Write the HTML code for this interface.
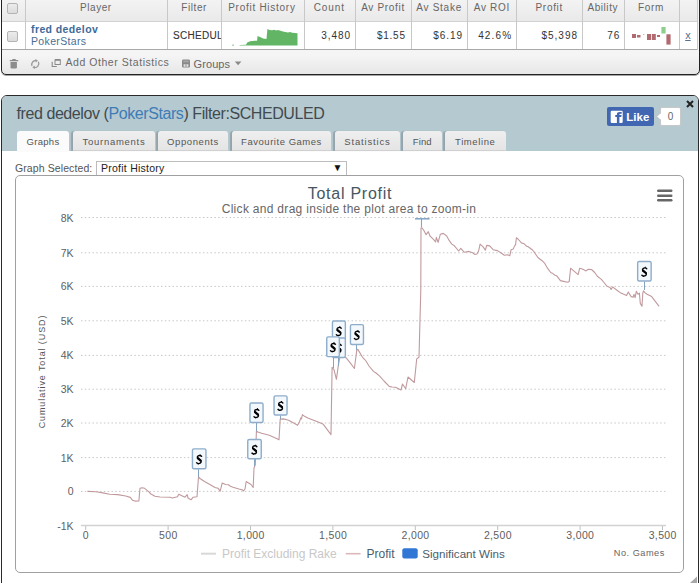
<!DOCTYPE html>
<html><head><meta charset="utf-8">
<style>
*{margin:0;padding:0;box-sizing:border-box}
html,body{width:700px;height:583px;overflow:hidden;background:#fff;font-family:"Liberation Sans",sans-serif}
.abs{position:absolute}
.ht{position:absolute;top:1.8px;font-size:10px;color:#666;letter-spacing:0.65px;white-space:nowrap}
.dt{position:absolute;font-size:10.5px;color:#333;letter-spacing:0.65px;white-space:nowrap}
.num{position:absolute;top:29.5px;font-size:10px;color:#333;letter-spacing:0.65px;white-space:nowrap;text-align:right;width:60px}
.cb{position:absolute;left:7px;width:11px;height:11px;border:1px solid #b4b4b4;border-radius:2px;background:linear-gradient(#ececec,#dcdcdc)}
.vd{position:absolute;top:0;width:1px;height:49px;background:#c8c8c8}
#panel{position:absolute;left:1px;top:95px;width:698px;height:600px;border:1px solid #2a2a2a;border-radius:6px 6px 0 0;background:#fff;overflow:hidden}
#phdr{position:absolute;left:0;top:0;width:100%;height:55px;background:#b5c9d0}
.title{position:absolute;left:14.5px;top:8.5px;font-size:16px;letter-spacing:-0.42px;color:#414a4f;white-space:nowrap}
.tab{position:absolute;top:35px;height:20px;background:linear-gradient(#efefef,#e4e4e4);border-radius:3px 3px 0 0;font-size:9.5px;color:#555;text-align:center;line-height:21px;letter-spacing:0.3px;box-shadow:-1.5px 0 1px rgba(0,0,0,0.18),inset 0 -1px 0 #d0d0d0}
.tab.on{background:#fbfbfb;height:21px;box-shadow:none}
</style></head><body>
<div class="abs" style="left:1px;top:-6px;width:699px;height:81px;border:1px solid #222;border-width:1px 1px 1px 1px;box-shadow:0 1px 0 rgba(0,0,0,0.35);border-radius:0 0 5px 5px;background:linear-gradient(#f5f5f5 60px,#e6e6e6 80px)"></div>
<div class="abs" style="left:2px;top:0;width:696px;height:21px;background:linear-gradient(#f3f3f3,#e9e9e9)"></div>
<div class="abs" style="left:2px;top:21px;width:696px;height:1px;background:#d2d2d2"></div>
<div class="abs" style="left:2px;top:22px;width:696px;height:27px;background:#fff"></div>
<div class="abs" style="left:2px;top:49px;width:696px;height:1px;background:#a8a8a8"></div>
<div class="abs" style="left:697px;top:0;width:1px;height:50px;background:#c8c8c8"></div>
<div class="vd" style="left:25px"></div>
<div class="vd" style="left:167px"></div>
<div class="vd" style="left:221px"></div>
<div class="vd" style="left:304px"></div>
<div class="vd" style="left:355px"></div>
<div class="vd" style="left:411px"></div>
<div class="vd" style="left:467px"></div>
<div class="vd" style="left:516px"></div>
<div class="vd" style="left:582px"></div>
<div class="vd" style="left:624px"></div>
<div class="vd" style="left:679px"></div>
<div class="cb" style="top:3px"></div>
<div class="cb" style="top:31px"></div>
<span class="ht" style="left:80px;letter-spacing:0.57px">Player</span>
<span class="ht" style="left:181.2px;letter-spacing:0.59px">Filter</span>
<span class="ht" style="left:228.2px;letter-spacing:0.73px">Profit History</span>
<span class="ht" style="left:313.7px;letter-spacing:0.91px">Count</span>
<span class="ht" style="left:361.2px;letter-spacing:0.68px">Av Profit</span>
<span class="ht" style="left:416.2px;letter-spacing:0.74px">Av Stake</span>
<span class="ht" style="left:473.7px;letter-spacing:0.7px">Av ROI</span>
<span class="ht" style="left:535.5px;letter-spacing:0.69px">Profit</span>
<span class="ht" style="left:587.5px;letter-spacing:0.55px">Ability</span>
<span class="ht" style="left:637.9px;letter-spacing:0.67px">Form</span>
<span class="dt" style="left:31px;top:23px;font-weight:bold;color:#3e6a98;letter-spacing:0.4px">fred dedelov</span>
<span class="dt" style="left:31px;top:35px;color:#4a6e94;letter-spacing:0.35px">PokerStars</span>
<div class="abs" style="left:168px;top:22px;width:53px;height:27px;overflow:hidden"><span class="dt" style="left:5px;top:8px;font-size:10px;color:#333;letter-spacing:0.3px;-webkit-text-stroke:0.1px #333">SCHEDULED</span></div>
<span class="num" style="left:290.9px;letter-spacing:0.9px">3,480</span>
<span class="num" style="left:345.7px;letter-spacing:0.74px">$1.55</span>
<span class="num" style="left:402.9px;letter-spacing:0.9px">$6.19</span>
<span class="num" style="left:452.4px;letter-spacing:1.18px">42.6%</span>
<span class="num" style="left:518px;letter-spacing:0.99px">$5,398</span>
<span class="num" style="left:560.2px;letter-spacing:0.94px">76</span>
<span class="abs" style="left:685.2px;top:28.8px;font-size:11px;line-height:12px;color:#55718f;text-decoration:underline;text-underline-offset:0.5px">x</span>
<svg class="abs" style="left:0;top:0" width="700" height="95">
  <polygon points="232,45.5 232,44.8 234,44.8 234,45.5 239.6,45.5 239.6,45 246,44.8 247.2,42.5 250.1,41.3 254.8,40.7 257.1,40.7 257.5,36 260.6,37.2 263,38.4 266.5,39 267.4,29 269.5,30 272,30.3 274.5,29.8 276,30.6 278,29.9 280.5,30.7 283,31.4 285.2,32 288,32.5 290,32.1 292.3,32.8 295,32.9 297.5,33.2 297.5,45.5" fill="#62b565"/>
  <rect x="632" y="34" width="4" height="4" fill="#b06a70"/>
  <rect x="637" y="35" width="3.5" height="2.5" fill="#b06a70"/>
  <rect x="643" y="34" width="1.5" height="1" fill="#d8b8b8"/>
  <rect x="647" y="34" width="4.2" height="6" fill="#b06a70"/>
  <rect x="652" y="34" width="3.8" height="6" fill="#b06a70"/>
  <rect x="657" y="35" width="3" height="2" fill="#b06a70"/>
  <rect x="661.4" y="27" width="4.2" height="6.5" fill="#8dd08d"/>
  <rect x="666.4" y="34.3" width="4.2" height="10.3" fill="#b06a70"/>
  <g fill="#8c8c8c">
    <rect x="9.7" y="60" width="8.6" height="1.3" rx="0.5"/>
    <rect x="12.3" y="59" width="3.4" height="1.3"/>
    <path d="M10.5 62 h6.4 v5.2 q0 1.4 -1.4 1.4 h-3.6 q-1.4 0 -1.4 -1.4z"/>
  </g>
  <g fill="none" stroke="#9a9a9a" stroke-width="1.3">
    <path d="M32 66 A4 4 0 0 1 36.5 60.6"/>
    <path d="M38.4 61.8 A4 4 0 0 1 33.8 67.4"/>
  </g>
  <path d="M35.5 59 L38 60.8 L35.6 62.6 Z M34.9 69 L32.3 67.3 L34.7 65.4 Z" fill="#9a9a9a"/>
  <g fill="none" stroke="#8a8a8a">
    <rect x="55" y="60" width="5.3" height="4.5" stroke-width="1"/>
    <path d="M55 59.8 h5.3" stroke-width="1.6"/>
    <path d="M52.2 61.8 v4.7 h4.6" stroke-width="1.1"/>
  </g>
  <rect x="182" y="59.5" width="8" height="8" rx="1.2" fill="#8a8a8a"/>
  <rect x="183.3" y="60.6" width="5.4" height="1.6" fill="#a8a8a8"/><rect x="183.6" y="64.2" width="2" height="2.6" fill="#ddd"/><rect x="186.4" y="64.2" width="2" height="2.6" fill="#ddd"/>
  <path d="M234.8 61.5 h6.6 l-3.3 3.8z" fill="#8a8a8a"/>
</svg>
<span class="abs" style="left:65.5px;top:56.3px;font-size:10.5px;color:#6a6a6a;white-space:nowrap;letter-spacing:0.55px">Add Other Statistics</span>
<span class="abs" style="left:193.5px;top:57.5px;font-size:11px;color:#666;white-space:nowrap;letter-spacing:0.1px">Groups</span>

<div id="panel">
  <div id="phdr"></div>
  <div class="title">fred dedelov (<span style="color:#3f7cb6">PokerStars</span>) Filter:SCHEDULED</div>
  <div class="tab on" style="left:15px;width:52px;letter-spacing:0.31px">Graphs</div>
  <div class="tab" style="left:71px;width:82px;letter-spacing:0.73px">Tournaments</div>
  <div class="tab" style="left:156px;width:70px;letter-spacing:0.59px">Opponents</div>
  <div class="tab" style="left:230px;width:99px;letter-spacing:0.53px">Favourite Games</div>
  <div class="tab" style="left:333px;width:65px;letter-spacing:0.83px">Statistics</div>
  <div class="tab" style="left:401px;width:38.5px;letter-spacing:0.15px">Find</div>
  <div class="tab" style="left:443px;width:60.5px;letter-spacing:0.59px">Timeline</div>
  <div class="abs" style="left:605px;top:11px;width:47px;height:19px;background:#4267b2;border-radius:2px"></div>
  <div class="abs" style="left:658px;top:11px;width:21px;height:19px;background:#fff;border:1px solid #c8c8c8;border-radius:2px;font-size:10px;color:#666;text-align:center;line-height:17px">0</div>
  <span class="abs" style="left:13px;top:66px;font-size:10.5px;color:#555;letter-spacing:0.1px">Graph Selected:</span>
  <div class="abs" style="left:93.5px;top:64.5px;width:251px;height:15px;border:1px solid #bcbcbc;background:#fff"></div>
  <span class="abs" style="left:99px;top:66px;font-size:10.5px;color:#222;letter-spacing:0.25px">Profit History</span>
  <span class="abs" style="left:330.5px;top:65.5px;font-size:10px;color:#111">&#9660;</span>
  <div class="abs" style="left:13px;top:79px;width:669px;height:398px;border:1px solid #a0a0a0;border-radius:5px;background:#fff"></div>
</div>
<svg class="abs" style="left:0;top:0" width="700" height="583" font-family="Liberation Sans">
  <!-- fb like -->
  <rect x="610.7" y="110.7" width="12" height="12.2" rx="1.2" fill="#fff"/>
  <path d="M616.9 122.9 V117 H615.3 V115.1 H616.9 V114.3 Q616.9 111.9 619.7 111.9 H621.7 V113.7 H620.3 Q619.4 113.7 619.4 114.5 V115.1 H621.6 L621.3 117 H619.4 V122.9 Z" fill="#4267b2"/>
  <text x="626.3" y="120.5" font-size="11.5" font-weight="bold" fill="#fff">Like</text>
  <path d="M660.5 113 l-4 3.5 l4 3.5z" fill="#fff" stroke="#bdbdbd" stroke-width="1"/>
  <rect x="659.9" y="113.6" width="2" height="5.8" fill="#fff"/>
  <path d="M687 101 l6 6 M693 101 l-6 6" stroke="#222" stroke-width="2"/>
  <!-- chart -->
  <text x="350" y="199" text-anchor="middle" font-size="16" fill="#455764" letter-spacing="0.75">Total Profit</text>
  <text x="349" y="213" text-anchor="middle" font-size="12" fill="#666" letter-spacing="0.3">Click and drag inside the plot area to zoom-in</text>
  <g fill="#666"><rect x="657" y="189.5" width="15.5" height="2.6" rx="1.3"/><rect x="657" y="194.5" width="15.5" height="2.6" rx="1.3"/><rect x="657" y="199" width="15.5" height="2.6" rx="1.3"/></g>
  <line x1="81" y1="217.5" x2="666" y2="217.5" stroke="#c8c8c8" stroke-width="1" stroke-dasharray="1.5,2.31"/><line x1="81" y1="252.8" x2="666" y2="252.8" stroke="#c8c8c8" stroke-width="1" stroke-dasharray="1.5,2.31"/><line x1="81" y1="286.4" x2="666" y2="286.4" stroke="#c8c8c8" stroke-width="1" stroke-dasharray="1.5,2.31"/><line x1="81" y1="320.8" x2="666" y2="320.8" stroke="#c8c8c8" stroke-width="1" stroke-dasharray="1.5,2.31"/><line x1="81" y1="355.4" x2="666" y2="355.4" stroke="#c8c8c8" stroke-width="1" stroke-dasharray="1.5,2.31"/><line x1="81" y1="389.2" x2="666" y2="389.2" stroke="#c8c8c8" stroke-width="1" stroke-dasharray="1.5,2.31"/><line x1="81" y1="423.0" x2="666" y2="423.0" stroke="#c8c8c8" stroke-width="1" stroke-dasharray="1.5,2.31"/><line x1="81" y1="457.6" x2="666" y2="457.6" stroke="#c8c8c8" stroke-width="1" stroke-dasharray="1.5,2.31"/><line x1="81" y1="491.4" x2="666" y2="491.4" stroke="#c8c8c8" stroke-width="1" stroke-dasharray="1.5,2.31"/>
  <line x1="81" y1="525.6" x2="666" y2="525.6" stroke="#d2d2d2" stroke-width="1.5"/>
  <g font-size="10.5" fill="#606060"><text x="73.5" y="221.5" text-anchor="end">8K</text><text x="73.5" y="256.8" text-anchor="end">7K</text><text x="73.5" y="290.4" text-anchor="end">6K</text><text x="73.5" y="324.8" text-anchor="end">5K</text><text x="73.5" y="359.4" text-anchor="end">4K</text><text x="73.5" y="393.2" text-anchor="end">3K</text><text x="73.5" y="427.0" text-anchor="end">2K</text><text x="73.5" y="461.6" text-anchor="end">1K</text><text x="73.5" y="495.4" text-anchor="end">0</text><text x="73.5" y="530" text-anchor="end">-1K</text><line x1="85.7" y1="526" x2="85.7" y2="530" stroke="#c0c0c0"/><text x="85.9" y="539.3" text-anchor="middle" letter-spacing="0.35">0</text><line x1="168.1" y1="526" x2="168.1" y2="530" stroke="#c0c0c0"/><text x="168.3" y="539.3" text-anchor="middle" letter-spacing="0.35">500</text><line x1="250.5" y1="526" x2="250.5" y2="530" stroke="#c0c0c0"/><text x="250.7" y="539.3" text-anchor="middle" letter-spacing="0.35">1,000</text><line x1="332.9" y1="526" x2="332.9" y2="530" stroke="#c0c0c0"/><text x="333.1" y="539.3" text-anchor="middle" letter-spacing="0.35">1,500</text><line x1="415.3" y1="526" x2="415.3" y2="530" stroke="#c0c0c0"/><text x="415.5" y="539.3" text-anchor="middle" letter-spacing="0.35">2,000</text><line x1="497.7" y1="526" x2="497.7" y2="530" stroke="#c0c0c0"/><text x="497.9" y="539.3" text-anchor="middle" letter-spacing="0.35">2,500</text><line x1="580.1" y1="526" x2="580.1" y2="530" stroke="#c0c0c0"/><text x="580.3" y="539.3" text-anchor="middle" letter-spacing="0.35">3,000</text><line x1="662.5" y1="526" x2="662.5" y2="530" stroke="#c0c0c0"/><text x="662.7" y="539.3" text-anchor="middle" letter-spacing="0.35">3,500</text></g>
  <text transform="translate(45,371.5) rotate(-90)" text-anchor="middle" font-size="9" fill="#555" letter-spacing="0.9">Cumulative Total (USD)</text>
  <polyline points="87.4,491.4 96.0,491.7 102.9,492.9 109.7,494.2 117.7,494.6 125.7,496.0 130.3,497.4 132.6,500.3 134.9,501.1 138.9,500.9 140.0,488.3 142.3,487.7 144.6,488.3 148.6,491.7 150.9,494.0 155.0,496.2 160.0,497.0 170.0,497.2 172.2,498.0 177.5,496.8 178.7,494.2 185.0,497.2 187.2,494.7 188.0,498.0 191.0,499.8 193.2,497.2 197.0,496.8 198.5,477.0 200.0,478.5 204.5,481.5 209.0,484.0 215.0,487.5 218.0,488.2 220.2,491.2 222.2,483.0 225.5,484.5 228.5,484.8 230.0,486.0 233.0,487.2 239.0,489.0 242.0,489.7 243.5,490.8 245.0,489.0 246.2,481.5 251.0,484.5 253.2,487.5 254.0,468.0 255.3,464.7 256.4,431.3 258.0,432.0 261.6,433.3 269.3,435.2 277.6,439.0 279.0,439.8 280.2,419.1 283.4,418.9 288.6,420.2 293.7,423.0 297.6,425.3 299.5,421.7 300.8,417.9 301.5,419.0 302.4,414.6 304.0,415.9 307.8,417.9 314.3,420.4 319.4,422.4 323.3,424.3 327.1,429.4 331.0,434.6 332.1,367.3 334.0,369.7 336.4,379.3 338.4,364.9 340.0,356.5 346.0,357.7 350.8,363.7 354.4,368.5 356.9,349.3 358.0,349.6 362.5,357.3 364.8,359.7 366.0,361.0 369.0,366.0 373.5,371.4 376.0,373.0 379.7,376.2 384.0,381.0 389.2,386.4 392.0,387.0 395.5,387.2 398.0,388.5 401.0,390.0 402.5,384.0 405.7,388.7 408.0,377.0 414.3,382.5 416.7,358.9 419.0,357.3 420.8,290.0 421.0,227.9 421.9,227.9 423.6,230.0 426.1,234.7 428.3,231.7 430.0,236.0 431.7,237.7 433.9,239.9 435.6,242.0 436.4,237.3 438.1,242.4 440.3,234.3 443.3,233.4 446.7,236.0 449.3,240.7 451.8,244.1 454.4,245.8 458.7,251.0 460.8,248.4 464.3,252.3 469.0,251.4 472.6,252.7 474.7,254.4 476.9,254.0 478.6,251.0 480.1,244.1 482.9,246.7 485.4,250.1 486.7,245.4 489.7,245.9 493.1,249.7 497.4,250.6 500.8,252.7 504.3,255.3 507.7,254.8 509.8,255.7 511.1,249.7 513.3,248.9 514.6,245.9 515.6,244.6 516.4,237.7 518.0,239.0 521.4,242.9 524.0,243.7 526.6,246.3 528.2,246.8 532.5,250.0 534.6,252.7 537.9,257.5 542.1,260.7 544.8,263.4 547.5,268.2 550.7,272.5 552.9,273.6 555.0,275.2 556.6,275.7 560.4,280.6 564.7,281.6 567.9,282.2 569.2,281.6 570.6,268.2 578.1,274.7 579.7,268.2 582.9,269.3 586.1,270.9 588.2,269.3 591.5,269.5 594.7,272.5 597.3,276.3 601.4,279.4 604.0,282.5 607.1,286.3 610.0,287.4 611.1,289.5 612.6,286.9 616.3,289.7 620.9,293.1 626.6,295.4 628.3,292.0 631.1,296.6 633.2,297.1 634.0,294.3 635.1,297.7 636.3,291.4 638.0,294.3 639.4,293.1 640.3,303.4 642.0,306.3 642.8,293.1 643.5,290.9 644.9,292.6 647.1,294.3 651.7,296.6 655.1,301.1 659.1,306.3" fill="none" stroke="#c09a9e" stroke-width="1.1" stroke-linejoin="round"/>
  <line x1="339.5" y1="340.8" x2="339.5" y2="357" stroke="#86a3c0" stroke-width="1"/>
<rect x="332.45" y="321.05" width="12.90" height="19.30" rx="1.5" fill="#f3f8fc" stroke="#8eadcb" stroke-width="1.4"/>
<g transform="translate(338.90,331.20) skewX(-6)"><path d="M2.3 -2.4 C2 -3.3 1.2 -3.8 0.2 -3.8 C-1.2 -3.8 -2.1 -3 -2.1 -2 C-2.1 0.3 2.2 -0.1 2.2 2.3 C2.2 3.5 1.3 4.3 -0.2 4.3 C-1.3 4.3 -2.1 3.8 -2.5 3" fill="none" stroke="#000" stroke-width="1.4"/><path d="M-1.5 -1.1 L1.6 1.3" stroke="#000" stroke-width="2.1" stroke-linecap="round"/><path d="M0.5 -3.9 V-4.9 M-0.5 4.3 V5.1" stroke="#000" stroke-width="1.1"/></g>
<line x1="338.5" y1="358" x2="338.5" y2="366" stroke="#86a3c0" stroke-width="1"/>
<rect x="332.45" y="338.05" width="12.90" height="19.50" rx="1.5" fill="#f3f8fc" stroke="#8eadcb" stroke-width="1.4"/>
<g transform="translate(338.90,348.30) skewX(-6)"><path d="M2.3 -2.4 C2 -3.3 1.2 -3.8 0.2 -3.8 C-1.2 -3.8 -2.1 -3 -2.1 -2 C-2.1 0.3 2.2 -0.1 2.2 2.3 C2.2 3.5 1.3 4.3 -0.2 4.3 C-1.3 4.3 -2.1 3.8 -2.5 3" fill="none" stroke="#000" stroke-width="1.4"/><path d="M-1.5 -1.1 L1.6 1.3" stroke="#000" stroke-width="2.1" stroke-linecap="round"/><path d="M0.5 -3.9 V-4.9 M-0.5 4.3 V5.1" stroke="#000" stroke-width="1.1"/></g>
<line x1="333.5" y1="357.1" x2="333.5" y2="368" stroke="#86a3c0" stroke-width="1"/>
<rect x="326.75" y="336.85" width="12.60" height="19.80" rx="1.5" fill="#f3f8fc" stroke="#8eadcb" stroke-width="1.4"/>
<g transform="translate(333.05,347.25) skewX(-6)"><path d="M2.3 -2.4 C2 -3.3 1.2 -3.8 0.2 -3.8 C-1.2 -3.8 -2.1 -3 -2.1 -2 C-2.1 0.3 2.2 -0.1 2.2 2.3 C2.2 3.5 1.3 4.3 -0.2 4.3 C-1.3 4.3 -2.1 3.8 -2.5 3" fill="none" stroke="#000" stroke-width="1.4"/><path d="M-1.5 -1.1 L1.6 1.3" stroke="#000" stroke-width="2.1" stroke-linecap="round"/><path d="M0.5 -3.9 V-4.9 M-0.5 4.3 V5.1" stroke="#000" stroke-width="1.1"/></g>
<line x1="356.5" y1="344.9" x2="356.5" y2="350" stroke="#86a3c0" stroke-width="1"/>
<rect x="350.45" y="324.65" width="13.00" height="19.80" rx="1.5" fill="#f3f8fc" stroke="#8eadcb" stroke-width="1.4"/>
<g transform="translate(356.95,335.05) skewX(-6)"><path d="M2.3 -2.4 C2 -3.3 1.2 -3.8 0.2 -3.8 C-1.2 -3.8 -2.1 -3 -2.1 -2 C-2.1 0.3 2.2 -0.1 2.2 2.3 C2.2 3.5 1.3 4.3 -0.2 4.3 C-1.3 4.3 -2.1 3.8 -2.5 3" fill="none" stroke="#000" stroke-width="1.4"/><path d="M-1.5 -1.1 L1.6 1.3" stroke="#000" stroke-width="2.1" stroke-linecap="round"/><path d="M0.5 -3.9 V-4.9 M-0.5 4.3 V5.1" stroke="#000" stroke-width="1.1"/></g>
<line x1="198.5" y1="469.2" x2="198.5" y2="477" stroke="#86a3c0" stroke-width="1"/>
<rect x="192.45" y="448.85" width="13.50" height="19.90" rx="1.5" fill="#f3f8fc" stroke="#8eadcb" stroke-width="1.4"/>
<g transform="translate(199.20,459.30) skewX(-6)"><path d="M2.3 -2.4 C2 -3.3 1.2 -3.8 0.2 -3.8 C-1.2 -3.8 -2.1 -3 -2.1 -2 C-2.1 0.3 2.2 -0.1 2.2 2.3 C2.2 3.5 1.3 4.3 -0.2 4.3 C-1.3 4.3 -2.1 3.8 -2.5 3" fill="none" stroke="#000" stroke-width="1.4"/><path d="M-1.5 -1.1 L1.6 1.3" stroke="#000" stroke-width="2.1" stroke-linecap="round"/><path d="M0.5 -3.9 V-4.9 M-0.5 4.3 V5.1" stroke="#000" stroke-width="1.1"/></g>
<line x1="254.5" y1="459.2" x2="254.5" y2="466" stroke="#86a3c0" stroke-width="1"/>
<rect x="247.75" y="439.45" width="13.50" height="19.30" rx="1.5" fill="#f3f8fc" stroke="#8eadcb" stroke-width="1.4"/>
<g transform="translate(254.50,449.60) skewX(-6)"><path d="M2.3 -2.4 C2 -3.3 1.2 -3.8 0.2 -3.8 C-1.2 -3.8 -2.1 -3 -2.1 -2 C-2.1 0.3 2.2 -0.1 2.2 2.3 C2.2 3.5 1.3 4.3 -0.2 4.3 C-1.3 4.3 -2.1 3.8 -2.5 3" fill="none" stroke="#000" stroke-width="1.4"/><path d="M-1.5 -1.1 L1.6 1.3" stroke="#000" stroke-width="2.1" stroke-linecap="round"/><path d="M0.5 -3.9 V-4.9 M-0.5 4.3 V5.1" stroke="#000" stroke-width="1.1"/></g>
<line x1="256.5" y1="423" x2="256.5" y2="431" stroke="#86a3c0" stroke-width="1"/>
<rect x="249.95" y="402.95" width="13.10" height="19.60" rx="1.5" fill="#f3f8fc" stroke="#8eadcb" stroke-width="1.4"/>
<g transform="translate(256.50,413.25) skewX(-6)"><path d="M2.3 -2.4 C2 -3.3 1.2 -3.8 0.2 -3.8 C-1.2 -3.8 -2.1 -3 -2.1 -2 C-2.1 0.3 2.2 -0.1 2.2 2.3 C2.2 3.5 1.3 4.3 -0.2 4.3 C-1.3 4.3 -2.1 3.8 -2.5 3" fill="none" stroke="#000" stroke-width="1.4"/><path d="M-1.5 -1.1 L1.6 1.3" stroke="#000" stroke-width="2.1" stroke-linecap="round"/><path d="M0.5 -3.9 V-4.9 M-0.5 4.3 V5.1" stroke="#000" stroke-width="1.1"/></g>
<line x1="280.5" y1="415.4" x2="280.5" y2="419" stroke="#86a3c0" stroke-width="1"/>
<rect x="274.05" y="395.85" width="13.00" height="19.10" rx="1.5" fill="#f3f8fc" stroke="#8eadcb" stroke-width="1.4"/>
<g transform="translate(280.55,405.90) skewX(-6)"><path d="M2.3 -2.4 C2 -3.3 1.2 -3.8 0.2 -3.8 C-1.2 -3.8 -2.1 -3 -2.1 -2 C-2.1 0.3 2.2 -0.1 2.2 2.3 C2.2 3.5 1.3 4.3 -0.2 4.3 C-1.3 4.3 -2.1 3.8 -2.5 3" fill="none" stroke="#000" stroke-width="1.4"/><path d="M-1.5 -1.1 L1.6 1.3" stroke="#000" stroke-width="2.1" stroke-linecap="round"/><path d="M0.5 -3.9 V-4.9 M-0.5 4.3 V5.1" stroke="#000" stroke-width="1.1"/></g>
<line x1="644.5" y1="281.4" x2="644.5" y2="290" stroke="#86a3c0" stroke-width="1"/>
<rect x="637.65" y="261.45" width="13.50" height="19.50" rx="1.5" fill="#f3f8fc" stroke="#8eadcb" stroke-width="1.4"/>
<g transform="translate(644.40,271.70) skewX(-6)"><path d="M2.3 -2.4 C2 -3.3 1.2 -3.8 0.2 -3.8 C-1.2 -3.8 -2.1 -3 -2.1 -2 C-2.1 0.3 2.2 -0.1 2.2 2.3 C2.2 3.5 1.3 4.3 -0.2 4.3 C-1.3 4.3 -2.1 3.8 -2.5 3" fill="none" stroke="#000" stroke-width="1.4"/><path d="M-1.5 -1.1 L1.6 1.3" stroke="#000" stroke-width="2.1" stroke-linecap="round"/><path d="M0.5 -3.9 V-4.9 M-0.5 4.3 V5.1" stroke="#000" stroke-width="1.1"/></g>
<line x1="421.5" y1="218.6" x2="421.5" y2="227" stroke="#86a3c0" stroke-width="1.1"/>
<line x1="415" y1="218.8" x2="429.6" y2="218.8" stroke="#7fa3c8" stroke-width="1.5"/>
  <!-- legend -->
  <line x1="201" y1="553.7" x2="216" y2="553.7" stroke="#d8d8d8" stroke-width="2"/>
  <text x="222" y="558" font-size="12" fill="#c8c8c8">Profit Excluding Rake</text>
  <line x1="345.7" y1="553.7" x2="360.6" y2="553.7" stroke="#dbb9bb" stroke-width="1.6"/>
  <text x="366.5" y="558" font-size="12" fill="#4a5d6c">Profit</text>
  <rect x="402.3" y="548.2" width="15.4" height="10.4" rx="2" fill="#3178d6"/>
  <text x="422.3" y="558" font-size="11.6" fill="#4a5d6c">Significant Wins</text>
  <text x="613.8" y="556" font-size="9.2" fill="#666" letter-spacing="0.5">No. Games</text>
  <path d="M690 583 L697 576.5 L697 583 Z" fill="#a8a8a8"/>
</svg>
</body></html>
